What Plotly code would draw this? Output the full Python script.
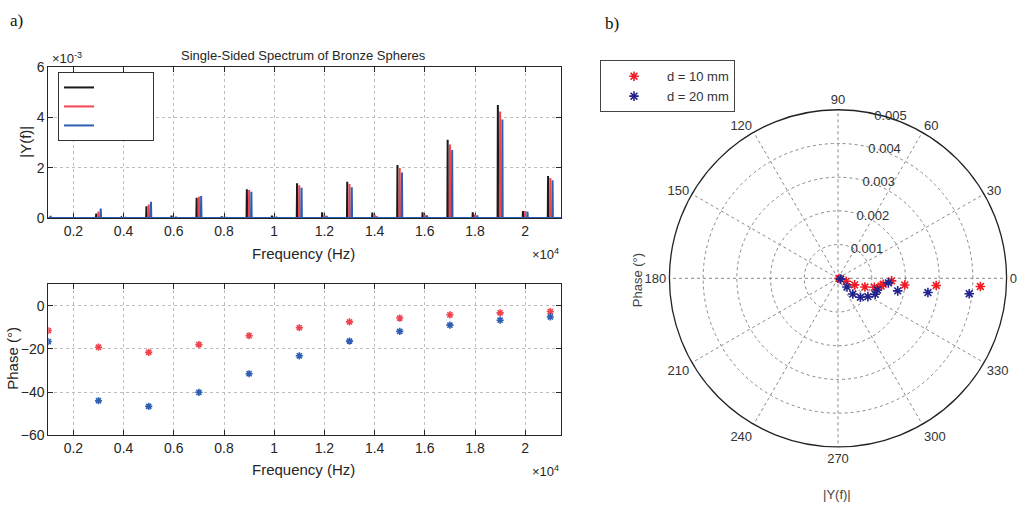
import plotly.graph_objects as go

W, H = 1033, 514

# ---------------- data ----------------
harm_freq = [1000, 3000, 5000, 7000, 9000, 11000, 13000, 15000, 17000, 19000, 21000]
mag_black = [0.02, 0.17, 0.46, 0.80, 1.14, 1.375, 1.44, 2.11, 3.11, 4.49, 1.67]   # x1e-3
mag_red = [0.03, 0.26, 0.53, 0.84, 1.11, 1.30, 1.35, 1.99, 2.92, 4.23, 1.59]
mag_blue = [0.08, 0.37, 0.64, 0.87, 1.04, 1.20, 1.22, 1.81, 2.70, 3.92, 1.50]

even_freq = [2000, 4000, 6000, 8000, 10000, 12000, 14000, 16000, 18000, 20000]
even_black = [0.01, 0.02, 0.09, 0.06, 0.09, 0.22, 0.21, 0.22, 0.22, 0.27]
even_red = [0.01, 0.01, 0.04, 0.03, 0.05, 0.09, 0.12, 0.12, 0.13, 0.27]
even_blue = [0.01, 0.03, 0.05, 0.03, 0.05, 0.08, 0.06, 0.10, 0.10, 0.25]

phase_red = [-11.5, -19.2, -21.6, -18.0, -13.9, -10.2, -7.5, -5.7, -4.2, -3.3, -2.7]
phase_blue = [-16.6, -44.0, -46.6, -40.1, -31.5, -23.2, -16.4, -11.9, -9.0, -6.7, -5.2]

freq_ticks = [2000, 4000, 6000, 8000, 10000, 12000, 14000, 16000, 18000, 20000]
freq_ticktext = ["0.2", "0.4", "0.6", "0.8", "1", "1.2", "1.4", "1.6", "1.8", "2"]
mag_ticks = [0, 0.002, 0.004, 0.006]
mag_ticktext = ["0", "2", "4", "6"]
phase_ticks = [-60, -40, -20, 0]
angle_ticks = [0, 30, 60, 90, 120, 150, 180, 210, 240, 270, 300, 330]
radial_ticks = [0.001, 0.002, 0.003, 0.004, 0.005]
legend_labels = ["d = 10 mm", "d = 20 mm"]

x_min, x_max = 1000, 21425

# ---------------- helpers ----------------
def px(x):
    return x / W


def py(y):
    return 1 - y / H


def spectrum(peak_f, peak_h, ev_f, ev_h, offset):
    pts = sorted([(f + offset, h * 1e-3) for f, h in zip(peak_f, peak_h)] +
                 [(f + offset, h * 1e-3) for f, h in zip(ev_f, ev_h)])
    xs, ys = [x_min], [0]
    d = 12
    for f, h in pts:
        xs += [f - d, f, f + d]
        ys += [0, h, 0]
    xs.append(x_max)
    ys.append(0)
    return xs, ys


BLACK = "#1a1a1a"
RED = "#f0444f"
BLUE = "#2c5fb3"
TXT = "#262626"
FONT = "Liberation Sans"

fig = go.Figure()

pad = "\u00a0" * 22
for col, mags, evs, off in [(BLACK, mag_black, even_black, -90),
                            (RED, mag_red, even_red, 0),
                            (BLUE, mag_blue, even_blue, 90)]:
    xs, ys = spectrum(harm_freq, mags, even_freq, evs, off)
    fig.add_trace(go.Scatter(x=xs, y=ys, mode="lines", name=pad,
                             line=dict(color=col, width=2),
                             xaxis="x", yaxis="y", legend="legend"))

for col, ph in [(RED, phase_red), (BLUE, phase_blue)]:
    fig.add_trace(go.Scatter(x=harm_freq, y=ph, mode="markers", showlegend=False,
                             marker=dict(symbol="asterisk-open", size=6, color=col,
                                         line=dict(color=col, width=1.6)),
                             xaxis="x2", yaxis="y2"))

PRED = "#ee1c24"
PBLUE = "#23238e"
for col, mags, ph, lab in [(PRED, mag_red, phase_red, legend_labels[0]),
                           (PBLUE, mag_blue, phase_blue, legend_labels[1])]:
    fig.add_trace(go.Scatterpolar(r=[m * 1e-3 for m in mags], theta=ph, mode="markers",
                                  name=lab, legend="legend2",
                                  marker=dict(symbol="asterisk-open", size=8, color=col,
                                              line=dict(color=col, width=1.6))))

axis_common = dict(showline=True, mirror="ticks", linecolor=TXT, linewidth=1,
                   ticks="inside", ticklen=5, tickcolor=TXT,
                   showgrid=True, gridcolor="#bdbdbd", griddash="dot", gridwidth=1,
                   zeroline=False, tickfont=dict(size=14, color=TXT, family=FONT))

top_dom = [py(216.7), py(61)]
bot_dom = [py(441), py(285)]
x_dom = [px(48.3), px(561)]
R = 174

fig.update_layout(
    width=W, height=H,
    margin=dict(l=0, r=0, t=0, b=0),
    paper_bgcolor="white", plot_bgcolor="white",
    font=dict(family=FONT, color=TXT),
    xaxis=dict(domain=x_dom, range=[x_min, x_max], tickvals=freq_ticks,
               ticktext=freq_ticktext, anchor="y", layer="below traces", **axis_common),
    yaxis=dict(domain=top_dom, range=[0, 0.006], tickvals=mag_ticks,
               ticktext=mag_ticktext, anchor="x", **axis_common),
    xaxis2=dict(domain=x_dom, range=[x_min, x_max], tickvals=freq_ticks,
                ticktext=freq_ticktext, anchor="y2", **axis_common),
    yaxis2=dict(domain=bot_dom, range=[-60, 10], tickvals=phase_ticks,
                anchor="x2", **axis_common),
    legend=dict(x=px(58), y=py(66), xanchor="left", yanchor="top",
                bgcolor="white", bordercolor="#333", borderwidth=1,
                font=dict(size=8), tracegroupgap=0),
    legend2=dict(x=px(600), y=py(54), xanchor="left", yanchor="top",
                 bgcolor="white", bordercolor="#444", borderwidth=1, itemwidth=56,
                 font=dict(size=13, color="#333")),
    polar=dict(
        domain=dict(x=[px(838 - R), px(838 + R)],
                    y=[py(279 + R), py(279 - R)]),
        bgcolor="white",
        angularaxis=dict(rotation=0, direction="counterclockwise",
                         tickvals=angle_ticks, ticktext=[str(a) for a in angle_ticks],
                         ticks="", showline=True, linecolor="#222", linewidth=1.3,
                         showgrid=True, gridcolor="#8a8a8a", griddash="dot",
                         tickfont=dict(size=13, color="#333")),
        radialaxis=dict(range=[0, 0.005], tickvals=radial_ticks,
                        ticktext=[str(r) for r in radial_ticks], angle=80,
                        side="clockwise", tickangle=80, showline=False, ticks="",
                        showgrid=True, gridcolor="#8a8a8a", griddash="dot",
                        tickfont=dict(size=13, color="#333")),
    ),
)

ann = [
    dict(text="Single-Sided Spectrum of Bronze Spheres", x=px(303), y=py(49), size=13),
    dict(text="×10<sup>-3</sup>", x=px(67), y=py(52), size=13),
    dict(text="×10<sup>4</sup>", x=px(545), y=py(254), size=13),
    dict(text="×10<sup>4</sup>", x=px(545), y=py(478), size=13),
    dict(text="Frequency (Hz)", x=px(303), y=py(253), size=15),
    dict(text="Frequency (Hz)", x=px(303), y=py(476), size=15),
    dict(text="|Y(f)|", x=px(26), y=py(138), size=15, angle=-90),
    dict(text="Phase (°)", x=px(13), y=py(362), size=15, angle=-90),
    dict(text="Phase (°)", x=px(637), y=py(281), size=13, angle=-90, color="#444"),
    dict(text="|Y(f)|", x=px(837), y=py(502), size=13, color="#444"),
    dict(text="a)", x=px(16), y=py(13), size=17, family="Liberation Serif", color="#111"),
    dict(text="b)", x=px(612), y=py(16), size=17, family="Liberation Serif", color="#111"),
]
for a in ann:
    fig.add_annotation(text=a["text"], x=a["x"], y=a["y"], xref="paper", yref="paper",
                       showarrow=False, xanchor="center", yanchor="middle",
                       textangle=a.get("angle", 0),
                       font=dict(size=a["size"], family=a.get("family", FONT),
                                 color=a.get("color", TXT)))

fig.write_html("out.html")
